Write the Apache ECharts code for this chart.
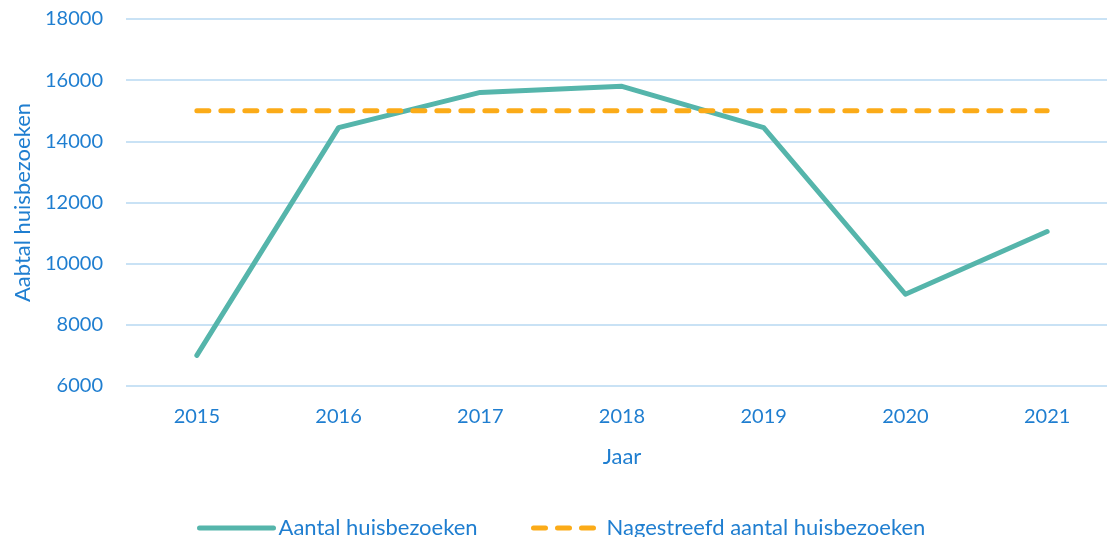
<!DOCTYPE html>
<html>
<head>
<meta charset="utf-8">
<script src="https://cdn.jsdelivr.net/npm/echarts@6/dist/echarts.min.js"></script>
<style>
	html, body { margin: 0; padding: 0; background: #fff; }
	#main { width: 1107px; height: 537px; }
</style>
</head>
<body>
<div id="main"></div>
<script>
// jaren en waarden
var jaren = ['2015', '2016', '2017', '2018', '2019', '2020', '2021'];
var huisbezoeken = [7000, 14450, 15600, 15800, 14450, 9000, 11050];
var nagestreefd = [15000, 15000, 15000, 15000, 15000, 15000, 15000];

var blauw = '#1f7ed0';
var font = 'Lato';

var legendText = { color: blauw, fontSize: 22, fontFamily: font };

var myChart = echarts.init(document.getElementById('main'));
var option = {
	backgroundColor: '#fff',
	textStyle: { fontFamily: font },
	grid: {
		left: 126,
		top: 19,
		width: 992,
		height: 367,
		outerBoundsMode: 'none'
	},
	legend: [{
		left: 192,
		top: 512,
		itemWidth: 74,
		itemHeight: 14,
		itemStyle: { opacity: 0 },
		lineStyle: { width: 5 },
		textStyle: legendText,
		data: ['Aantal huisbezoeken']
	}, {
		left: 526,
		top: 512,
		itemWidth: 68,
		itemHeight: 14,
		itemStyle: { opacity: 0 },
		lineStyle: { width: 5 },
		textStyle: legendText,
		padding: [5, 5, 5, 5],
		data: ['Nagestreefd aantal huisbezoeken']
	}],
	xAxis: {
		type: 'category',
		data: jaren,
		boundaryGap: true,
		name: 'Jaar',
		nameLocation: 'middle',
		nameGap: 60,
		nameTextStyle: { color: blauw, fontSize: 22 },
		axisLine: { show: false },
		axisTick: { show: false },
		axisLabel: { color: blauw, fontSize: 20, margin: 21 }
	},
	yAxis: {
		type: 'value',
		min: 6000,
		max: 18000,
		interval: 2000,
		name: 'Aabtal huisbezoeken',
		nameLocation: 'middle',
		nameGap: 92,
		nameTextStyle: { color: blauw, fontSize: 22 },
		axisLine: { show: false },
		axisTick: { show: false },
		axisLabel: {
			color: blauw,
			fontSize: 20,
			margin: 23,
			formatter: function (v) { return String(v); }
		},
		splitLine: { lineStyle: { color: '#c9e2f5', width: 2 } }
	},
	series: [{
		name: 'Aantal huisbezoeken',
		type: 'line',
		data: huisbezoeken,
		symbol: 'none',
		color: '#55b5ab',
		lineStyle: { width: 5, color: '#55b5ab', cap: 'round', join: 'round' }
	}, {
		name: 'Nagestreefd aantal huisbezoeken',
		type: 'line',
		data: nagestreefd,
		symbol: 'none',
		color: '#fbab18',
		lineStyle: { width: 5, color: '#fbab18', type: [12, 12], cap: 'round' }
	}]
};
myChart.setOption(option);
</script>
</body>
</html>
